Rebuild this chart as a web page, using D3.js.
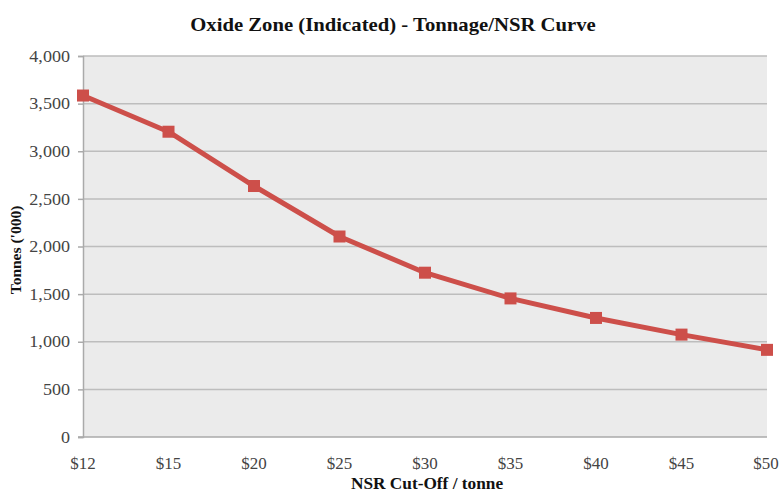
<!DOCTYPE html>
<html>
<head>
<meta charset="utf-8">
<script src="https://cdn.jsdelivr.net/npm/d3@7"></script>
<style>
  body { margin: 0; background: #fff; }
  text { font-family: "Liberation Serif", "Times New Roman", serif; }
</style>
</head>
<body>
<svg id="chart" width="780" height="492"></svg>
<script>
// data
var cutoffs = ['$12', '$15', '$20', '$25', '$30', '$35', '$40', '$45', '$50']
var tonnes = [3585, 3205, 2635, 2105, 1725, 1455, 1250, 1075, 915]
var yTicks = [0, 500, 1000, 1500, 2000, 2500, 3000, 3500, 4000]

var svg = d3.select('#chart')
var margin = { left: 83, right: 13, top: 56, bottom: 55 }
var w = 780 - margin.left - margin.right
var h = 492 - margin.top - margin.bottom

var x = d3.scalePoint().domain(cutoffs).range([0, w])
var y = d3.scaleLinear().domain([0, 4000]).range([h, 0])

// the source picture is a bit wider than its fonts, stretch text to match
function stretch(sel, k) {
  sel.each(function () {
    var len = this.getComputedTextLength()
    d3.select(this).attr('textLength', len * k).attr('lengthAdjust', 'spacingAndGlyphs')
  })
}

var g = svg.append('g').attr('transform', 'translate(' + margin.left + ',' + margin.top + ')')

g.append('rect').attr('width', w).attr('height', h).attr('fill', '#ebebeb')

// gridlines
g.selectAll('.grid').data(yTicks.slice(1)).enter()
  .append('line')
  .attr('x1', 0).attr('x2', w)
  .attr('y1', d => y(d)).attr('y2', d => y(d))
  .attr('stroke', '#bdbdbd').attr('stroke-width', 1.5)

// y axis
var yAxis = g.append('g')
  .call(d3.axisLeft(y).tickValues(yTicks).tickFormat(d3.format(',')).tickSize(5).tickPadding(8))
yAxis.select('.domain').attr('stroke', '#aaa').attr('stroke-width', 1.5)
yAxis.selectAll('.tick line').attr('stroke', '#aaa').attr('stroke-width', 1.5)
yAxis.selectAll('text').attr('font-size', 16).attr('fill', '#444')
  .style('font-family', '"Liberation Serif", serif')
  .call(stretch, 1.13)

// x bottom line
g.append('line').attr('x1', -5).attr('x2', w).attr('y1', h).attr('y2', h)
  .attr('stroke', '#aaa').attr('stroke-width', 1.5)

// x labels
g.selectAll('.xl').data(cutoffs).enter()
  .append('text')
  .attr('x', d => Math.min(x(d), w - 1)).attr('y', h + 32)
  .attr('text-anchor', 'middle')
  .attr('font-size', 16).attr('fill', '#444')
  .text(d => d)
  .call(stretch, 1.06)

var pts = cutoffs.map((c, i) => [x(c), y(tonnes[i])])

g.append('path')
  .attr('d', d3.line()(pts))
  .attr('fill', 'none')
  .attr('stroke', '#cd4f4a')
  .attr('stroke-width', 5)
  .attr('stroke-linejoin', 'round')

g.selectAll('.mk').data(pts).enter()
  .append('rect')
  .attr('x', d => d[0] - 6).attr('y', d => d[1] - 6)
  .attr('width', 12).attr('height', 12)
  .attr('fill', '#cd4f4a')

// titles
svg.append('text')
  .attr('x', 393).attr('y', 31)
  .attr('text-anchor', 'middle')
  .attr('font-size', 19).attr('font-weight', 'bold').attr('fill', '#111')
  .text('Oxide Zone (Indicated) - Tonnage/NSR Curve')
  .call(stretch, 1.09)

svg.append('text')
  .attr('transform', 'translate(21,250) rotate(-90)')
  .attr('text-anchor', 'middle')
  .attr('font-size', 15.5).attr('font-weight', 'bold').attr('fill', '#111')
  .text("Tonnes ('000)")

svg.append('text')
  .attr('x', 427).attr('y', 489)
  .attr('text-anchor', 'middle')
  .attr('font-size', 16).attr('font-weight', 'bold').attr('fill', '#111')
  .text('NSR Cut-Off / tonne')
  .call(stretch, 1.08)
</script>
</body>
</html>
